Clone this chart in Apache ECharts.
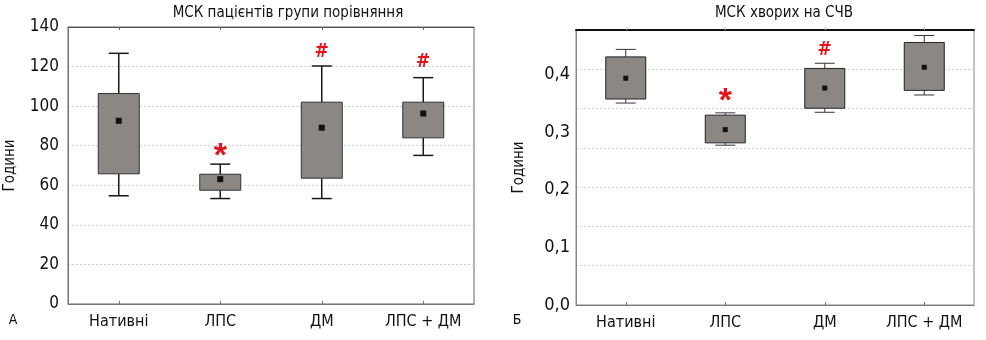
<!DOCTYPE html>
<html>
<head>
<meta charset="utf-8">
<script src="https://cdn.jsdelivr.net/npm/echarts@6/dist/echarts.min.js"></script>
<style>
html,body{margin:0;padding:0;background:#fff;}
#chart{width:986px;height:340px;}
</style>
</head>
<body>
<div id="chart"></div>
<script>
const categories = ['Нативні', 'ЛПС', 'ДМ', 'ЛПС + ДМ'];

// Panel A (hours)
const aLow  = [54.7, 53.3, 53.3, 75.1];
const aQ1   = [65.8, 57.5, 63.6, 84.0];
const aMean = [92.6, 63.1, 89.1, 96.3];
const aQ3   = [106.4, 65.6, 102.0, 102.0];
const aHigh = [126.7, 70.7, 120.3, 114.4];
const aMarkCat  = [1, 2, 3];
const aMarkText = ['*', '#', '#'];
const aMarkVal  = [78.3, 127.4, 122.3];
const aTicks = [0, 20, 40, 60, 80, 100, 120, 140];

// Panel B
const bLow  = [0.350, 0.277, 0.334, 0.364];
const bQ1   = [0.357, 0.281, 0.341, 0.372];
const bMean = [0.393, 0.304, 0.376, 0.412];
const bQ3   = [0.430, 0.329, 0.410, 0.455];
const bHigh = [0.443, 0.333, 0.419, 0.467];
const bMarkCat  = [1, 2];
const bMarkText = ['*', '#'];
const bMarkVal  = [0.367, 0.442];
const bTicks = ['0,0', '0,1', '0,2', '0,3', '0,4'];

const FONT = "'DejaVu Sans Condensed', 'Liberation Sans Narrow', 'Arial Narrow', 'Liberation Sans', sans-serif";

function boxRender(opt) {
  return function (params, api) {
    const i = api.value(0);
    const pLow = api.coord([i, api.value(1)]);
    const pQ1 = api.coord([i, api.value(2)]);
    const pMean = api.coord([i, api.value(3)]);
    const pQ3 = api.coord([i, api.value(4)]);
    const pHigh = api.coord([i, api.value(5)]);
    const x = pLow[0];
    const hb = opt.boxW / 2, hc = opt.capW / 2;
    const ls = { stroke: opt.lineColor, lineWidth: opt.lineWidth };
    return {
      type: 'group',
      children: [
        { type: 'line', shape: { x1: x, y1: pHigh[1], x2: x, y2: pQ3[1] }, style: ls },
        { type: 'line', shape: { x1: x, y1: pQ1[1], x2: x, y2: pLow[1] }, style: ls },
        { type: 'line', shape: { x1: x - hc, y1: pHigh[1], x2: x + hc, y2: pHigh[1] }, style: ls },
        { type: 'line', shape: { x1: x - hc, y1: pLow[1], x2: x + hc, y2: pLow[1] }, style: ls },
        { type: 'rect', shape: { x: x - hb, y: pQ3[1], width: opt.boxW, height: pQ1[1] - pQ3[1] },
          style: { fill: '#8b8784', stroke: opt.boxStroke, lineWidth: 1 } },
        { type: 'rect', shape: { x: x - opt.meanS / 2, y: pMean[1] - opt.meanS / 2, width: opt.meanS, height: opt.meanS },
          style: { fill: '#111' } }
      ]
    };
  };
}

function markRender(texts) {
  return function (params, api) {
    const p = api.coord([api.value(0), api.value(1)]);
    const t = texts[params.dataIndex];
    const star = t === '*';
    const fs = star ? 34 : 19;
    return {
      type: 'text',
      x: p[0], y: p[1] + (star ? 8 : 0),
      style: { text: t, fill: '#e3121b', font: 'bold ' + fs + 'px ' + (star ? "'Liberation Sans', sans-serif" : FONT),
        align: 'center', verticalAlign: 'middle' }
    };
  };
}

const chart = echarts.init(document.getElementById('chart'), null, { renderer: 'canvas' });

const xCommon = {
  type: 'category', data: categories, boundaryGap: true,
  axisLine: { show: true, onZero: false, lineStyle: { color: '#777', width: 1 } },
  axisTick: { show: true, inside: true, length: 3, alignWithLabel: true, lineStyle: { color: '#777' } },
  axisLabel: { color: '#111', fontFamily: FONT, fontSize: 16, margin: 10, interval: 0 },
  splitLine: { show: false }
};

const option = {
  animation: false,
  backgroundColor: '#fff',
  grid: [
    { left: 68, top: 27, width: 406, height: 277, show: true, borderColor: '#666', borderWidth: 1,
      containLabel: false, outerBoundsMode: 'none' },
    { left: 576, top: 30, width: 398, height: 275, show: true, borderColor: '#888', borderWidth: 1,
      containLabel: false, outerBoundsMode: 'none' }
  ],
  xAxis: [
    Object.assign({}, xCommon, { gridIndex: 0, position: 'bottom' }),
    Object.assign({}, xCommon, { gridIndex: 1, position: 'bottom' }),
    { type: 'category', data: categories, gridIndex: 0, position: 'top',
      axisLine: { show: true, onZero: false, lineStyle: { color: '#555', width: 1 } },
      axisTick: { show: true, inside: true, length: 3, alignWithLabel: true, lineStyle: { color: '#666' } },
      axisLabel: { show: false }, splitLine: { show: false } },
    { type: 'category', data: categories, gridIndex: 1, position: 'top',
      axisLine: { show: true, onZero: false, lineStyle: { color: '#111', width: 2 } },
      axisTick: { show: true, inside: false, length: 3, alignWithLabel: true, lineStyle: { color: '#bbb' } },
      axisLabel: { show: false }, splitLine: { show: false } }
  ],
  yAxis: [
    { type: 'value', gridIndex: 0, min: aTicks[0], max: aTicks[aTicks.length - 1], interval: aTicks[1] - aTicks[0],
      name: 'Години', nameLocation: 'middle', nameRotate: 90, nameGap: 50,
      nameTextStyle: { fontFamily: FONT, fontSize: 15, color: '#111' },
      axisLine: { show: true, lineStyle: { color: '#777' } }, axisTick: { show: false },
      axisLabel: { color: '#111', fontFamily: FONT, fontSize: 17, margin: 9 },
      splitLine: { show: true, lineStyle: { color: '#d0d0d0', type: [2, 2], width: 1 } } },
    { type: 'value', gridIndex: 1, min: 0, max: 0.4766, interval: 0.1,
      name: 'Години', nameLocation: 'middle', nameRotate: 90, nameGap: 49,
      nameTextStyle: { fontFamily: FONT, fontSize: 15, color: '#111' },
      axisLine: { show: true, lineStyle: { color: '#888' } }, axisTick: { show: false },
      axisLabel: { color: '#111', fontFamily: FONT, fontSize: 18, margin: 6,
        formatter: function (v) { const k = Math.round(v * 10); return k <= 4 ? bTicks[k] : ''; } },
      splitLine: { show: false } },
    { type: 'value', gridIndex: 1, min: 0, max: 7, interval: 1, position: 'right',
      axisLine: { show: false }, axisTick: { show: false }, axisLabel: { show: false },
      splitLine: { show: true, lineStyle: { color: '#d0d0d0', type: [2, 2], width: 1 } } }
  ],
  graphic: [
    { type: 'text', x: 288, y: 13, style: { text: 'МСК пацієнтів групи порівняння', font: '15px ' + FONT, fill: '#111', align: 'center', verticalAlign: 'middle' } },
    { type: 'text', x: 784, y: 13, style: { text: 'МСК хворих на СЧВ', font: '15px ' + FONT, fill: '#111', align: 'center', verticalAlign: 'middle' } },
    { type: 'text', x: 13, y: 320, style: { text: 'А', font: '14px ' + FONT, fill: '#111', align: 'center', verticalAlign: 'middle' } },
    { type: 'text', x: 517, y: 320, style: { text: 'Б', font: '14px ' + FONT, fill: '#111', align: 'center', verticalAlign: 'middle' } }
  ],
  series: [
    { type: 'custom', xAxisIndex: 0, yAxisIndex: 0,
      renderItem: boxRender({ boxW: 41, capW: 20, lineColor: '#1a1a1a', lineWidth: 1.5, boxStroke: '#333', meanS: 6 }),
      encode: { x: 0, y: [1, 2, 3, 4, 5] },
      data: categories.map((c, i) => [i, aLow[i], aQ1[i], aMean[i], aQ3[i], aHigh[i]]) },
    { type: 'custom', xAxisIndex: 1, yAxisIndex: 1,
      renderItem: boxRender({ boxW: 40, capW: 20, lineColor: '#333', lineWidth: 1, boxStroke: '#222', meanS: 5 }),
      encode: { x: 0, y: [1, 2, 3, 4, 5] },
      data: categories.map((c, i) => [i, bLow[i], bQ1[i], bMean[i], bQ3[i], bHigh[i]]) },
    { type: 'custom', xAxisIndex: 0, yAxisIndex: 0, renderItem: markRender(aMarkText),
      encode: { x: 0, y: 1 }, data: aMarkCat.map((c, i) => [c, aMarkVal[i]]) },
    { type: 'custom', xAxisIndex: 1, yAxisIndex: 1, renderItem: markRender(bMarkText),
      encode: { x: 0, y: 1 }, data: bMarkCat.map((c, i) => [c, bMarkVal[i]]) }
  ]
};
chart.setOption(option);
</script>
</body>
</html>
